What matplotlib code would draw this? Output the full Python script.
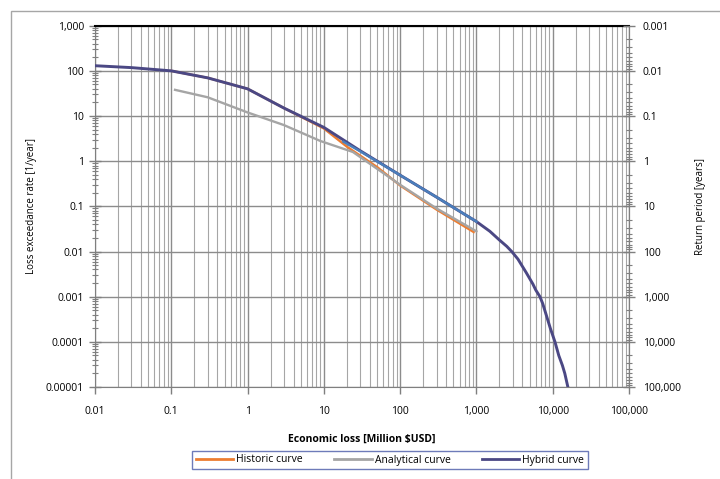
import numpy as np
import matplotlib.pyplot as plt
from matplotlib.ticker import FixedLocator, NullFormatter
from matplotlib.patches import Rectangle
from matplotlib.lines import Line2D

plt.rcParams['font.family'] = ['Open Sans', 'DejaVu Sans']

# loss [million USD] vs. annual exceedance rate [1/year]
historic_loss = [0.1, 0.3, 1, 3, 10, 20, 50, 100, 300, 920]
historic_rate = [100, 70, 40, 15, 5.3, 2.1, 0.74, 0.29, 0.085, 0.027]

analytical_loss = [0.112, 0.3, 1, 3, 9, 24, 100, 300, 1000]
analytical_rate = [38, 26, 12, 6.3, 2.8, 1.6, 0.3, 0.09, 0.028]

hybrid_loss = [0.01, 0.03, 0.1, 0.3, 1, 3, 10, 30, 100, 300, 1000, 1500,
               2000, 2500, 2900, 3500, 4000, 4500, 5500, 6000, 6800, 7400,
               8200, 9300, 10700, 12000, 13400, 14400, 15800]
hybrid_rate = [130, 118, 100, 70, 40, 15, 5.6, 1.7, 0.49, 0.16, 0.046, 0.028,
               0.018, 0.013, 0.01, 0.0068, 0.0047, 0.0034, 0.0019, 0.0014,
               0.001, 0.0007, 0.0004, 0.0002, 0.0001, 0.00005, 0.00003,
               0.00002, 0.00001]

# series left out of the legend
extra_loss = [18, 30, 100, 300, 1000]
extra_rate = [2.7, 1.65, 0.49, 0.16, 0.046]

x_ticks = [0.01, 0.1, 1, 10, 100, 1000, 10000, 100000]
rate_ticks = [1000, 100, 10, 1, 0.1, 0.01, 0.001, 0.0001, 0.00001]


def fmt(v):
    if v >= 1:
        return f"{v:,.0f}"
    d = int(round(-np.log10(v)))
    return f"{v:.{d}f}"


c_hist = '#ED7D31'
c_anal = '#A5A5A5'
c_hyb = '#4B4884'
c_extra = '#4A7EBB'

fig = plt.figure(figsize=(7.2, 4.79), dpi=100)
fig.patches.append(Rectangle((11 / 720, -0.05), 1.1, 1 - 11 / 479 + 0.05,
                             transform=fig.transFigure, fill=False,
                             edgecolor='#a6a6a6', lw=1))

ax = fig.add_axes([95 / 720, 1 - 387 / 479, (629 - 95) / 720, (387 - 25.7) / 479])
ax.set_xscale('log')
ax.set_yscale('log')
ax.set_xlim(0.01, 100000)
ax.set_ylim(0.00001, 1000)

ax.plot(historic_loss, historic_rate, color=c_hist, lw=1.7, zorder=2)
ax.plot(analytical_loss, analytical_rate, color=c_anal, lw=1.7, zorder=2)
ax.plot(hybrid_loss, hybrid_rate, color=c_hyb, lw=2.1, zorder=3)
ax.plot(extra_loss, extra_rate, color=c_extra, lw=1.7, zorder=4)

ax.xaxis.set_major_locator(FixedLocator(x_ticks))
ax.set_xticklabels([fmt(v) for v in x_ticks])
minor_x = [m * 10.0 ** k for k in range(-2, 5) for m in range(2, 10)]
ax.xaxis.set_minor_locator(FixedLocator(minor_x))
ax.xaxis.set_minor_formatter(NullFormatter())

ax.yaxis.set_major_locator(FixedLocator(rate_ticks))
ax.set_yticklabels([fmt(v) for v in rate_ticks])
minor_y = [m * 10.0 ** k for k in range(-5, 3) for m in range(2, 10)]
ax.yaxis.set_minor_locator(FixedLocator(minor_y))
ax.yaxis.set_minor_formatter(NullFormatter())

ax.grid(which='major', axis='both', color='#8c8c8c', lw=1.0)
ax.grid(which='minor', axis='x', color='#a6a6a6', lw=0.8)
ax.set_axisbelow(True)

ax.tick_params(axis='y', which='major', direction='inout', length=8, width=1,
               color='#7f7f7f', labelsize=7.5, pad=4)
ax.tick_params(axis='y', which='minor', direction='inout', length=5, width=0.8,
               color='#7f7f7f')
ax.tick_params(axis='x', which='major', direction='out', length=5, width=1,
               color='#7f7f7f', labelsize=7.5, pad=9)
ax.tick_params(axis='x', which='minor', direction='out', length=0)

for s in ['left', 'bottom', 'right']:
    ax.spines[s].set_color('#7f7f7f')
ax.spines['top'].set_color('black')
ax.spines['top'].set_linewidth(1.5)

ax.set_xlabel('Economic loss [Million \\$USD]', fontsize=7.5, fontweight='bold',
              labelpad=12)
ax.set_ylabel('Loss exceedance rate [1/year]', fontsize=7, labelpad=6)

# return period axis (1 / rate)
ax2 = ax.twinx()
ax2.set_yscale('log')
ax2.set_ylim(ax.get_ylim())
ax2.yaxis.set_major_locator(FixedLocator(rate_ticks))
ax2.set_yticklabels([fmt(1 / v) for v in rate_ticks])
minor_rp = [1 / (m * 10.0 ** k) for k in range(-3, 5) for m in range(2, 10)]
ax2.yaxis.set_minor_locator(FixedLocator(minor_rp))
ax2.yaxis.set_minor_formatter(NullFormatter())
ax2.tick_params(axis='y', which='major', direction='inout', length=8, width=1,
                color='#7f7f7f', labelsize=7.5, pad=6)
ax2.tick_params(axis='y', which='minor', direction='inout', length=5, width=0.8,
                color='#7f7f7f')
for s in ['left', 'bottom', 'top']:
    ax2.spines[s].set_visible(False)
ax2.spines['right'].set_color('#7f7f7f')
ax2.set_ylabel('Return period [years]', fontsize=7, labelpad=10)

handles = [Line2D([], [], color=c_hist, lw=2),
           Line2D([], [], color=c_anal, lw=2),
           Line2D([], [], color=c_hyb, lw=2)]
leg = fig.legend(handles, ['Historic curve', 'Analytical curve', 'Hybrid curve'],
                 loc='center', bbox_to_anchor=(390 / 720, 1 - 460 / 479), ncol=3,
                 fontsize=7.5, frameon=True, fancybox=False, edgecolor='#4a5aa8',
                 handlelength=3.6, columnspacing=3.0, handletextpad=0.3,
                 borderpad=0.35)
leg.get_frame().set_linewidth(1.0)

fig.savefig('out.png', dpi=100)
